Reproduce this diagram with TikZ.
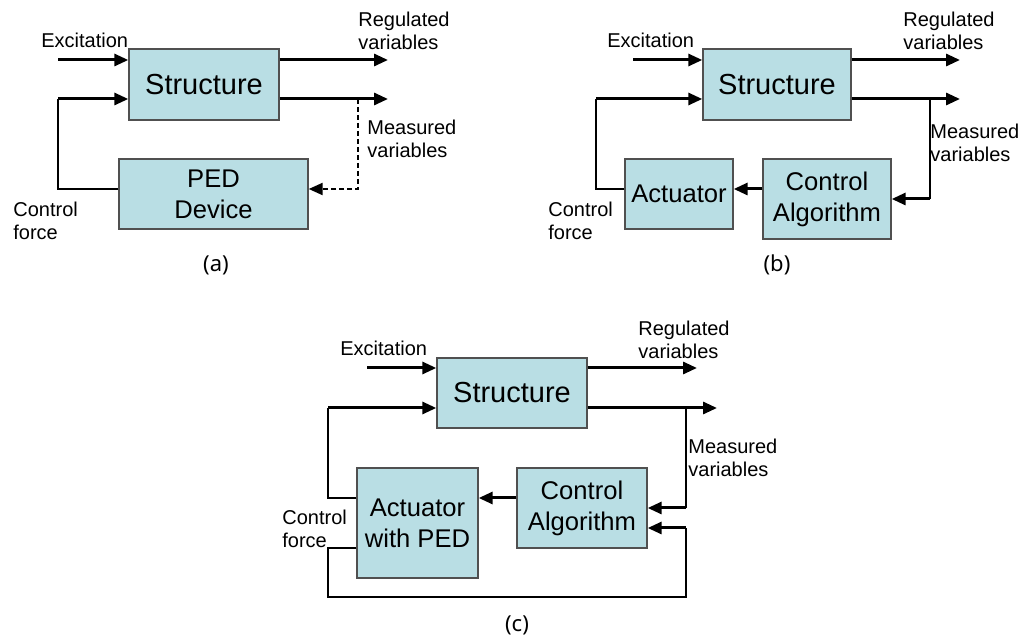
\documentclass[tikz,border=0pt]{standalone}
\usepackage{fontspec}
\setmainfont{Liberation Sans}
\newfontfamily\capfont{Noto Sans}
\usetikzlibrary{arrows.meta,positioning,calc}
\definecolor{boxfill}{RGB}{185,222,228}
\definecolor{boxline}{RGB}{80,80,80}

\begin{document}
\begin{tikzpicture}[x=0.5pt,y=-0.5pt,
  blk/.style={draw=boxline,fill=boxfill,line width=0.7pt,align=center,inner sep=0pt,font=\fontsize{12.8}{15.5}\selectfont},
  big/.style={font=\fontsize{14.5}{16.5}\selectfont},
  lbl/.style={anchor=west,align=left,inner sep=0pt,font=\fontsize{10}{11.2}\selectfont},
  subcap/.style={inner sep=0pt,font=\capfont\fontsize{11}{13}\selectfont},
  sig/.style={-{Triangle[length=7pt,width=6pt]},line width=1.5pt},
  fb/.style={line width=0.6pt}]
\useasboundingbox (0,0) rectangle (1028,640);
% (a) passive device
\node[blk,big,minimum width=75pt,minimum height=35.5pt] (sa) at (204,84.5) {Structure};
\node[blk,minimum width=94.5pt,minimum height=35pt] (peda) at (213.5,194) {PED\\Device};
\node[lbl] (exca) at (41,40) {Excitation};
\node[lbl] (rega) at (358,31) {Regulated\\variables};
\node[lbl] (measa) at (367,139) {Measured\\variables};
\node[lbl] (ctla) at (13,221) {Control\\force};
\node[subcap] (capa) at (216,265) {(a)};
\coordinate (a-exc) at (58,60);
\coordinate (a-ctl) at (58,99);
\coordinate (a-reg) at (388,60);
\coordinate (a-meas) at (388,99);
\coordinate (a-tap) at (358,99);
\coordinate (a-bend) at (358,189);
\coordinate (a-back) at (58,189);
\draw[sig] (a-exc) -- (sa.west |- a-exc);
\draw[sig] (a-ctl) -- (sa.west |- a-ctl);
\draw[sig] (sa.east |- a-reg) -- (a-reg);
\draw[sig] (sa.east |- a-meas) -- (a-meas);
\draw[sig,line width=1.1pt,dash pattern=on 2.4pt off 1.6pt] (a-tap) -- (a-bend) -- (peda.east |- a-bend);
\draw[fb] (peda.west |- a-back) -- (a-back) -- (a-ctl);
% (b) active control
\node[blk,big,minimum width=74pt,minimum height=35.5pt] (sb) at (777,84.5) {Structure};
\node[blk,minimum width=54pt,minimum height=35pt] (actb) at (679,194) {Actuator};
\node[blk,minimum width=64pt,minimum height=40pt] (cab) at (827,199) {Control\\Algorithm};
\node[lbl] (excb) at (607,40) {Excitation};
\node[lbl] (regb) at (903,31) {Regulated\\variables};
\node[lbl] (measb) at (930,143) {Measured\\variables};
\node[lbl] (ctlb) at (548,221) {Control\\force};
\node[subcap] (capb) at (777,265) {(b)};
\coordinate (b-exc) at (633,60);
\coordinate (b-ctl) at (596,99);
\coordinate (b-reg) at (960,60);
\coordinate (b-meas) at (960,99);
\coordinate (b-tap) at (930,99);
\coordinate (b-bend) at (930,199);
\coordinate (b-back) at (596,189);
\draw[sig] (b-exc) -- (sb.west |- b-exc);
\draw[sig] (b-ctl) -- (sb.west |- b-ctl);
\draw[sig] (sb.east |- b-reg) -- (b-reg);
\draw[sig] (sb.east |- b-meas) -- (b-meas);
\draw[fb] (b-tap) -- (b-bend);
\draw[sig] (b-bend) -- (cab.east |- b-bend);
\draw[sig] (cab.west |- b-back) -- (actb.east |- b-back);
\draw[fb] (actb.west |- b-back) -- (b-back) -- (b-ctl);
% (c) semi-active control
\node[blk,big,minimum width=75pt,minimum height=35pt] (sc) at (512,393) {Structure};
\node[blk,minimum width=60.5pt,minimum height=55pt] (actc) at (417.5,523) {Actuator\\with PED};
\node[blk,minimum width=65pt,minimum height=40pt] (cac) at (582,508) {Control\\Algorithm};
\node[lbl] (excc) at (340,348) {Excitation};
\node[lbl] (regc) at (638,340) {Regulated\\variables};
\node[lbl] (measc) at (688,458) {Measured\\variables};
\node[lbl] (ctlc) at (282,529) {Control\\force};
\node[subcap] (capc) at (517,625) {(c)};
\coordinate (c-exc) at (367,368);
\coordinate (c-ctl) at (328,408);
\coordinate (c-reg) at (697,368);
\coordinate (c-meas) at (717,408);
\coordinate (c-tap) at (686,408);
\coordinate (c-bend) at (686,508);
\coordinate (c-back) at (328,498);
\coordinate (c-loop) at (328,548);
\coordinate (c-low) at (328,597);
\coordinate (c-right) at (686,597);
\coordinate (c-bend2) at (686,528);
\draw[sig] (c-exc) -- (sc.west |- c-exc);
\draw[sig] (c-ctl) -- (sc.west |- c-ctl);
\draw[sig] (sc.east |- c-reg) -- (c-reg);
\draw[sig] (sc.east |- c-meas) -- (c-meas);
\draw[fb] (c-tap) -- (c-bend);
\draw[sig] (c-bend) -- (cac.east |- c-bend);
\draw[sig] (cac.west |- c-back) -- (actc.east |- c-back);
\draw[fb] (actc.west |- c-back) -- (c-back) -- (c-ctl);
\draw[fb] (actc.west |- c-loop) -- (c-loop) -- (c-low) -- (c-right) -- (c-bend2);
\draw[sig] (c-bend2) -- (cac.east |- c-bend2);
\end{tikzpicture}
\end{document}
